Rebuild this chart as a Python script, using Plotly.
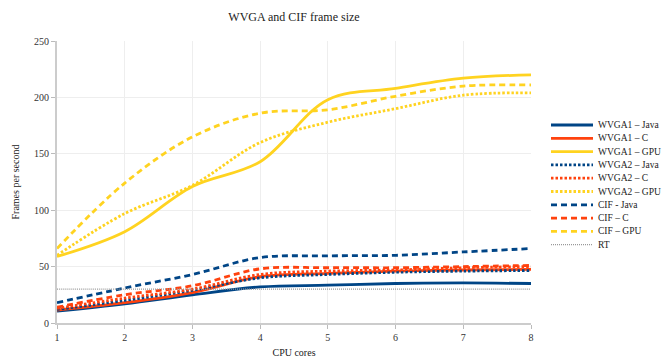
import plotly.graph_objects as go

cores = [1, 2, 3, 4, 5, 6, 7, 8]
wvga1_java = [10.5, 17, 25, 32, 33.5, 35, 35.5, 35]
wvga1_c = [11.5, 18, 27, 41, 44, 46, 47, 47.5]
wvga1_gpu = [59, 81, 121, 143, 198, 208, 217, 220]
wvga2_java = [12, 20, 29, 40, 43, 45, 46, 46.5]
wvga2_c = [13, 22, 30, 43, 46, 47, 49, 50]
wvga2_gpu = [60, 97, 122, 160, 178, 190, 202, 204]
cif_java = [18, 31, 43, 58, 59.5, 60, 63, 66]
cif_c = [14, 25, 33, 48, 49, 49, 50, 51]
cif_gpu = [66, 124, 165, 186, 189, 201, 210, 211]
rt = [30, 30, 30, 30, 30, 30, 30, 30]

BLUE = "#004586"
ORANGE = "#ff420e"
YELLOW = "#ffd320"
GRAY = "#999999"

SOLID = "solid"
DOT = "2.5px,2px"
DASH = "6px,4px"
FINE = "1px,1px"

series = [
    ("WVGA1 – Java", wvga1_java, BLUE, SOLID, 2.8),
    ("WVGA1 – C", wvga1_c, ORANGE, SOLID, 2.8),
    ("WVGA1 – GPU", wvga1_gpu, YELLOW, SOLID, 2.8),
    ("WVGA2 – Java", wvga2_java, BLUE, DOT, 2.8),
    ("WVGA2 – C", wvga2_c, ORANGE, DOT, 2.8),
    ("WVGA2 – GPU", wvga2_gpu, YELLOW, DOT, 2.8),
    ("CIF - Java", cif_java, BLUE, DASH, 2.8),
    ("CIF – C", cif_c, ORANGE, DASH, 2.8),
    ("CIF – GPU", cif_gpu, YELLOW, DASH, 2.8),
    ("RT", rt, GRAY, FINE, 1.3),
]

W, H = 663, 358
ML, MR, MT, MB = 57, 132, 41, 35
PW, PH = W - ML - MR, H - MT - MB

font = "Liberation Serif, Times New Roman, serif"

fig = go.Figure()
for name, vals, color, dash, w in series:
    fig.add_trace(go.Scatter(
        x=cores, y=vals, name=name, mode="lines", showlegend=False,
        line=dict(color=color, dash=dash, width=w, shape="spline", smoothing=1.0),
    ))

# hand-built legend (compact row spacing like the original)
LEG_X0, LEG_X1, LEG_TX = 551, 593, 596
LEG_Y0, LEG_DY = 125, 13.3
def px_x(p):
    return (p - ML) / PW
def px_y(p):
    return (H - MB - p) / PH
for i, (name, vals, color, dash, w) in enumerate(series):
    yy = px_y(LEG_Y0 + i * LEG_DY)
    fig.add_shape(type="line", xref="paper", yref="paper",
                  x0=px_x(LEG_X0), x1=px_x(LEG_X1), y0=yy, y1=yy,
                  line=dict(color=color, dash=dash, width=w))
    fig.add_annotation(xref="paper", yref="paper", x=px_x(LEG_TX), y=yy,
                       xanchor="left", yanchor="middle", showarrow=False,
                       text=name, font=dict(family=font, size=9.5, color="#222222"))

fig.update_layout(
    width=W, height=H,
    margin=dict(l=ML, r=MR, t=MT, b=MB, autoexpand=False),
    paper_bgcolor="white", plot_bgcolor="white",
    font=dict(family=font, size=10, color="#333333"),
    title=dict(text="WVGA and CIF frame size", x=0.5, xref="paper", xanchor="center",
               y=1 - 17 / H, yanchor="middle",
               font=dict(family=font, size=12, color="#222222")),
    showlegend=False,
)
fig.update_xaxes(
    range=[1, 8], tickvals=cores, ticks="outside", ticklen=4, tickcolor="#bbbbbb",
    showgrid=True, gridcolor="#eeeeee", gridwidth=1,
    showline=True, linecolor="#cccccc", linewidth=2, zeroline=False,
    title=dict(text="CPU cores", font=dict(family=font, size=10, color="#222222"), standoff=18),
    tickfont=dict(family=font, size=10, color="#333333"),
)
fig.update_yaxes(
    range=[0, 250], tickvals=[0, 50, 100, 150, 200, 250], ticks="outside", ticklen=4,
    tickcolor="#bbbbbb",
    showgrid=True, gridcolor="#eeeeee", gridwidth=1,
    showline=True, linecolor="#cccccc", linewidth=2, zeroline=False,
    title=dict(text="Frames per second", font=dict(family=font, size=10, color="#222222"), standoff=13),
    tickfont=dict(family=font, size=10, color="#333333"),
)

fig.write_html("out.html")
